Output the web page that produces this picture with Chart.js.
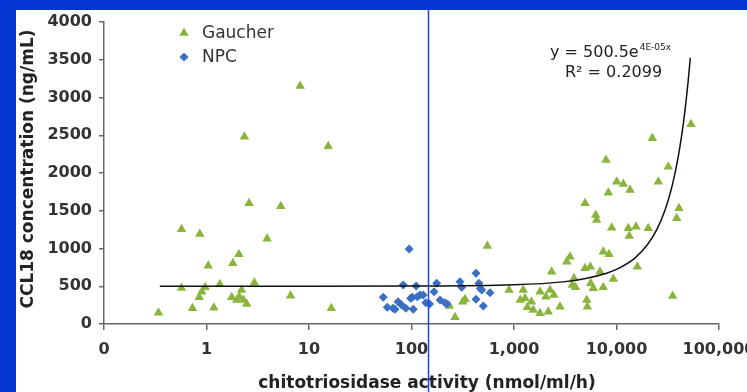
<!DOCTYPE html>
<html><head><meta charset="utf-8">
<script src="https://cdn.jsdelivr.net/npm/chart.js@4/dist/chart.umd.min.js"></script>
<style>html,body{margin:0;padding:0;background:#0536d2;overflow:hidden}#wrap{width:747px;height:392px}</style>
</head><body><div id="wrap"><canvas id="c" width="747" height="392"></canvas></div>
<script>
// ---- data ----
const gaucherX = [0.34,0.57,0.86,1.04,0.57,0.73,0.85,0.90,0.97,1.18,1.35,1.76,1.81,2.07,2.09,2.2,2.47,1.97,2.29,2.93,2.34,2.6,3.9,5.3,6.6,8.2,15.4,16.5,
  234,266,316,333,549,894,
  1150,1230,1280,1350,1480,1540,1795,1795,2050,2160,2245,2330,2450,2810,3270,3520,3850,3700,3980,4930,4930,5550,5120,5200,5600,5940,6270,6400,6900,7430,7430,7900,8320,8450,8970,9310,10050,11650,13550,13030,13330,15500,15960,20400,22350,25590,32000,35300,38650,40700,53300];
const gaucherY = [150,1254,1192,773,477,208,353,428,486,216,526,353,804,923,362,450,265,318,318,547,2481,1600,1130,1560,375,3152,2355,208,
  238,89,296,327,1033,450,
  318,450,340,221,296,185,428,141,362,163,450,693,384,229,825,891,605,517,486,1598,738,759,318,229,539,473,1444,1377,693,958,486,2172,1739,923,1276,596,1885,1854,1775,1268,1166,1289,759,1268,2459,1885,2084,371,1400,1532,2645];
const npcX = [53,58,66,69,74,80,83,88,95,98,102,104,111,114,121,130,138,150,166,176,190,212,222,297,309,426,426,484,501,583,455,470];
const npcY = [353,221,208,195,296,252,516,208,993,340,353,195,503,362,384,384,282,265,428,539,318,282,265,560,486,671,327,450,238,415,540,470];
const trendX = [0.35,1,10,100,1000,3000,5000,8000,10000,15000,20000,25000,30000,35000,40000,45000,50000,52500];
const trendY = [500.5,500.5,500.5,502,519,558,603,673,723,870,1049,1264,1523,1836,2212,2667,3214,3527];
const xTickValues = [0.1,1,10,100,1000,10000,100000];
const xTickLabels = ['0','1','10','100','1,000','10,000','100,000'];
const yTickValues = [0,500,1000,1500,2000,2500,3000,3500,4000];
const cutoffX = 144;
const seriesNames = ['Gaucher','NPC'];
const equationMain = 'y = 500.5e', equationExp = '4E-05x', rSquared = 'R² = 0.2099';
const xTitle = 'chitotriosidase activity (nmol/ml/h)';
const yTitle = 'CCL18 concentration (ng/mL)';

const GREEN = '#8ab53c', BLUE = '#3b6fc2', FONT = '"DejaVu Sans", Verdana, sans-serif';
const pts = (xs, ys) => xs.map((x, i) => ({x, y: ys[i]}));

const deco = {
  id: 'deco',
  beforeDraw(chart) {
    const c = chart.ctx;
    c.save();
    c.fillStyle = '#0536d2'; c.fillRect(0, 0, chart.width, chart.height);
    c.fillStyle = '#ffffff'; c.fillRect(16, 10, chart.width - 16, chart.height - 10);
    c.restore();
  },
  afterDraw(chart) {
    const c = chart.ctx, xs = chart.scales.x;
    c.save();
    // legend
    const ds = chart.data.datasets;
    [[0, 33], [1, 57]].forEach(([i, y]) => {
      c.fillStyle = ds[i].backgroundColor;
      Chart.helpers.drawPoint(c, {pointStyle: ds[i].pointStyle, radius: ds[i].pointRadius, borderWidth: 0, rotation: 0}, 184, y);
      c.fillStyle = '#333'; c.font = '17px ' + FONT; c.textBaseline = 'middle'; c.textAlign = 'left';
      c.fillText(seriesNames[i], 202, y + 1);
    });
    // equation
    c.fillStyle = '#222'; c.textBaseline = 'alphabetic';
    c.font = '16px ' + FONT; c.fillText(equationMain, 550, 57);
    const w = c.measureText(equationMain).width;
    c.font = '9px ' + FONT; c.fillText(equationExp, 550 + w + 1, 50);
    c.font = '16px ' + FONT; c.fillText(rSquared, 565, 77);
    // axis titles
    c.fillStyle = '#222'; c.font = 'bold 17px ' + FONT; c.textAlign = 'center'; c.textBaseline = 'middle';
    c.fillText(xTitle, 427, 384);
    c.translate(29, 169); c.rotate(-Math.PI / 2); c.fillText(yTitle, 0, 0);
    c.restore();
    // cutoff line
    const px = Math.round(xs.getPixelForValue(cutoffX)) + 0.5;
    c.save(); c.strokeStyle = '#1f45e0'; c.lineWidth = 1.5;
    c.beginPath(); c.moveTo(px, 10); c.lineTo(px, chart.height); c.stroke(); c.restore();
  }
};

new Chart(document.getElementById('c'), {
  type: 'scatter',
  data: {
    datasets: [
      {label: seriesNames[0], data: pts(gaucherX, gaucherY), pointStyle: 'triangle', pointRadius: 5.5, backgroundColor: GREEN, borderWidth: 0, order: 2},
      {label: seriesNames[1], data: pts(npcX, npcY), pointStyle: 'rectRot', pointRadius: 4.5, backgroundColor: BLUE, borderWidth: 0, order: 1},
      {label: 'trend', data: pts(trendX, trendY), showLine: true, pointRadius: 0, borderColor: '#111', borderWidth: 1.5, cubicInterpolationMode: 'monotone', fill: false, order: 0}
    ]
  },
  options: {
    responsive: false, animation: false, devicePixelRatio: 1,
    layout: {padding: {left: 16, top: 22, right: 28, bottom: 0}},
    plugins: {legend: {display: false}, tooltip: {enabled: false}},
    scales: {
      x: {
        type: 'logarithmic', min: 0.1, max: 100000, position: 'bottom',
        afterBuildTicks: s => { s.ticks = xTickValues.map(v => ({value: v})); },
        afterFit: s => { s.height = 68; s.paddingLeft = 0; s.paddingRight = 0; },
        ticks: {autoSkip: false, maxRotation: 0, padding: 10, color: '#333', font: {family: FONT, size: 16, weight: 'bold'},
          callback: (v, i) => xTickLabels[i]},
        grid: {drawOnChartArea: false, drawTicks: true, tickLength: 6, color: '#666', lineWidth: 1.5},
        border: {display: true, color: '#666', width: 1.5}
      },
      y: {
        type: 'linear', min: 0, max: 4000,
        afterBuildTicks: s => { s.ticks = yTickValues.map(v => ({value: v})); },
        afterFit: s => { s.width = 88; s.paddingTop = 0; s.paddingBottom = 0; },
        ticks: {padding: 7, color: '#333', font: {family: FONT, size: 16, weight: 'bold'}, callback: v => String(v)},
        grid: {drawOnChartArea: false, drawTicks: true, tickLength: 5, color: '#666', lineWidth: 1.5},
        border: {display: true, color: '#666', width: 1.5}
      }
    }
  },
  plugins: [deco]
});
</script>
</body></html>
